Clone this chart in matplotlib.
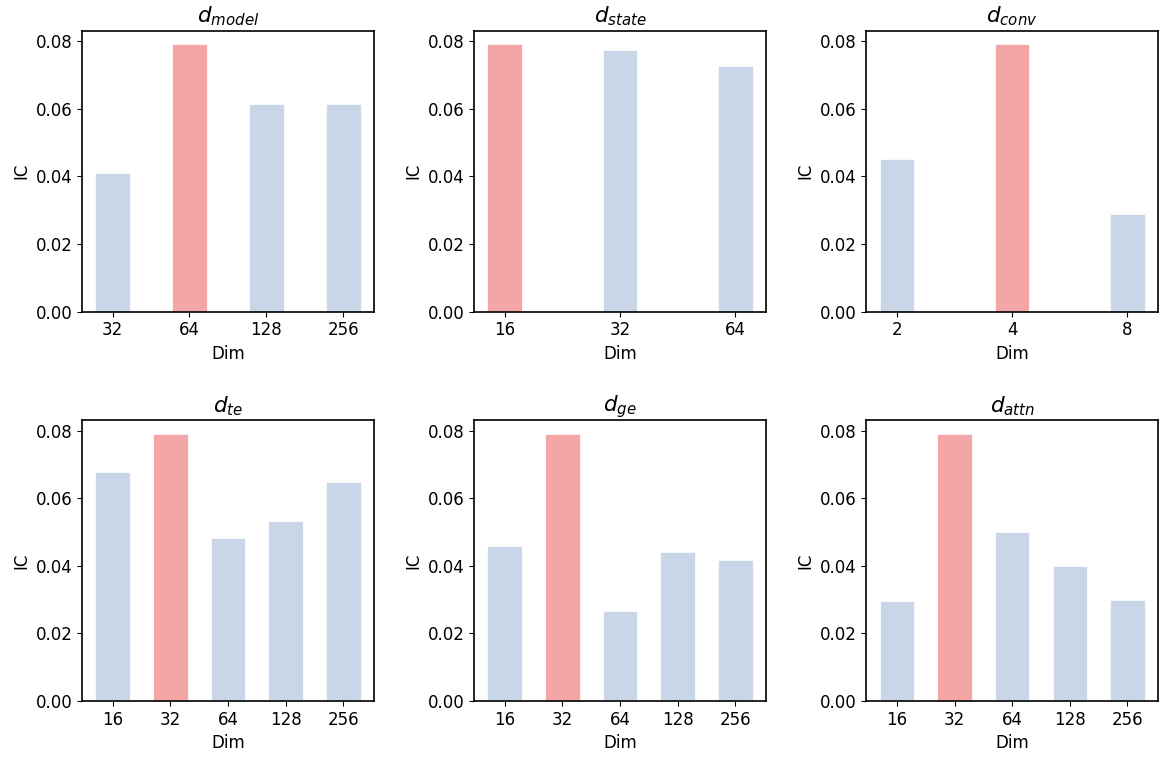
import matplotlib.pyplot as plt
import numpy as np

# IC for each hyper-parameter setting (best one highlighted)
titles = ["$d_{model}$", "$d_{state}$", "$d_{conv}$", "$d_{te}$", "$d_{ge}$", "$d_{attn}$"]

dims_model = ["32", "64", "128", "256"]
ic_model = [0.0409, 0.0791, 0.0616, 0.0616]

dims_state = ["16", "32", "64"]
ic_state = [0.0791, 0.0773, 0.0726]

dims_conv = ["2", "4", "8"]
ic_conv = [0.0453, 0.0791, 0.0290]

dims_te = ["16", "32", "64", "128", "256"]
ic_te = [0.0679, 0.0791, 0.0483, 0.0533, 0.0649]

dims_ge = ["16", "32", "64", "128", "256"]
ic_ge = [0.0459, 0.0791, 0.0267, 0.0441, 0.0418]

dims_attn = ["16", "32", "64", "128", "256"]
ic_attn = [0.0296, 0.0791, 0.0501, 0.0400, 0.0299]

all_dims = [dims_model, dims_state, dims_conv, dims_te, dims_ge, dims_attn]
all_ic = [ic_model, ic_state, ic_conv, ic_te, ic_ge, ic_attn]

blue = "#c8d6e8"
red = "#f4a6a7"

plt.rcParams["font.size"] = 12
plt.rcParams["axes.linewidth"] = 1.2

fig, axes = plt.subplots(2, 3, figsize=(11.62, 7.57), dpi=100)

for ax, title, dims, ic in zip(axes.flat, titles, all_dims, all_ic):
    n = len(dims)
    x = np.arange(n)
    best = int(np.argmax(ic))
    colors = [red if i == best else blue for i in range(n)]
    ax.bar(x, ic, width=0.15 * (n - 1), color=colors, edgecolor="white", linewidth=0.5)
    ax.set_xticks(x)
    ax.set_xticklabels(dims)
    ax.set_yticks([0.0, 0.02, 0.04, 0.06, 0.08])
    ax.set_title(title, fontsize=15.5)
    ax.set_xlabel("Dim")
    ax.set_ylabel("IC")

plt.subplots_adjust(left=0.0706, right=0.9966, top=0.959, bottom=0.074,
                    wspace=0.344, hspace=0.388)
plt.savefig("out.png")
